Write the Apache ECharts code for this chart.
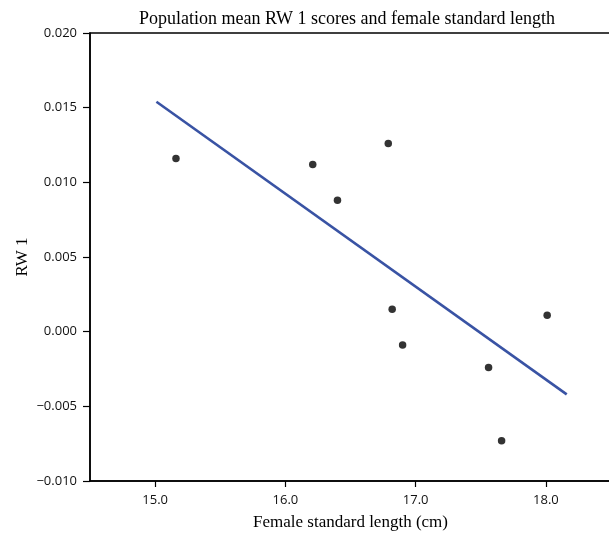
<!DOCTYPE html>
<html>
<head>
<meta charset="utf-8">
<script src="https://cdn.jsdelivr.net/npm/echarts@6/dist/echarts.min.js"></script>
<style>html,body{margin:0;padding:0;background:#fff}#c{width:609px;height:534px}</style>
</head>
<body>
<div id="c"></div>
<script>
// Data
const lengthCm = [15.16, 16.21, 16.40, 16.79, 16.82, 16.90, 17.56, 17.66, 18.01];
const rw1      = [0.0116, 0.0112, 0.0088, 0.0126, 0.0015, -0.0009, -0.0024, -0.0073, 0.0011];
const fitX = [15.01, 18.16];
const fitY = [0.0154, -0.0042];
const xTicks = [15, 16, 17, 18];
const yTicks = [-0.010, -0.005, 0.000, 0.005, 0.010, 0.015, 0.020];

const points = lengthCm.map((x, i) => [x, rw1[i]]);
const fitLine = fitX.map((x, i) => [x, fitY[i]]);

const chart = echarts.init(document.getElementById('c'), null, {renderer: 'canvas'});
const serif = '"Liberation Serif", "DejaVu Serif", serif';
const sans = '"Open Sans", "Noto Sans", sans-serif';
chart.setOption({
  animation: false,
  backgroundColor: '#fff',
  title: {
    text: 'Population mean RW 1 scores and female standard length',
    left: 342, top: 5, textAlign: 'center',
    textStyle: {fontFamily: serif, fontSize: 18, fontWeight: 'normal', color: '#000'}
  },
  grid: {left: 90, top: 33, right: -2, bottom: 53, show: true, borderColor: '#000', borderWidth: 1.5,
    containLabel: false, outerBoundsMode: 'none'},
  xAxis: {
    type: 'value', min: 14.5, max: 18.5,
    name: 'Female standard length (cm)', nameLocation: 'middle', nameGap: 33, nameMoveOverlap: false,
    nameTextStyle: {fontFamily: serif, fontSize: 17, color: '#000'},
    axisLine: {show: true, onZero: false, lineStyle: {color: '#000', width: 1.5}},
    axisTick: {show: true, length: 6, customValues: xTicks, lineStyle: {color: '#000', width: 1.2}},
    axisLabel: {customValues: xTicks, margin: 13, fontFamily: sans, fontSize: 13, color: '#111',
      formatter: v => v.toFixed(1)},
    splitLine: {show: false}
  },
  yAxis: {
    type: 'value', min: -0.010, max: 0.020,
    name: 'RW 1', nameLocation: 'middle', nameGap: 59, nameRotate: 90, nameMoveOverlap: false,
    nameTextStyle: {fontFamily: serif, fontSize: 17, color: '#000'},
    axisLine: {show: true, onZero: false, lineStyle: {color: '#000', width: 1.5}},
    axisTick: {show: true, length: 7, customValues: yTicks, lineStyle: {color: '#000', width: 1.2}},
    axisLabel: {customValues: yTicks, margin: 13, fontFamily: sans, fontSize: 13, color: '#111',
      formatter: v => v.toFixed(3).replace('-', '\u2212').replace('\u22120.000', '0.000')},
    splitLine: {show: false}
  },
  series: [
    {type: 'line', data: fitLine, symbol: 'none', lineStyle: {color: '#3953a4', width: 2.6}, z: 2},
    {type: 'scatter', data: points, symbol: 'circle', symbolSize: 7.5, itemStyle: {color: '#000'}, z: 3}
  ]
});
</script>
</body>
</html>
